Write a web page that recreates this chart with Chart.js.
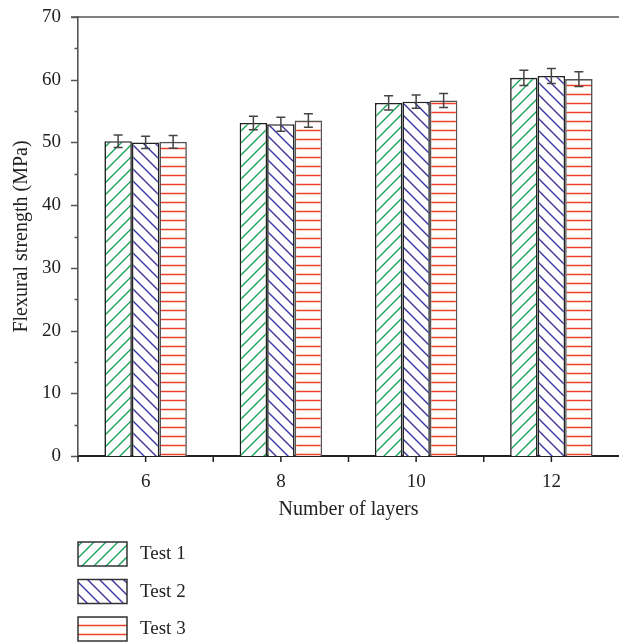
<!DOCTYPE html>
<html>
<head>
<meta charset="utf-8">
<script src="https://cdn.jsdelivr.net/npm/chart.js@4"></script>
<style>
  html, body { margin: 0; padding: 0; background: #fff; }
  #wrap { width: 619px; height: 644px; }
</style>
</head>
<body>
<div id="wrap"><canvas id="bar_chart" width="619" height="644"></canvas></div>
<script>
// number of layers (x categories)
var layers = ['6', '8', '10', '12'];
var seriesNames = ['Test 1', 'Test 2', 'Test 3'];

// flexural strength (MPa) per test
var test1 = [50.2, 53.1, 56.3, 60.3];
var test2 = [50.0, 52.9, 56.5, 60.6];
var test3 = [50.1, 53.5, 56.7, 60.1];

// error bar half-heights (MPa)
var err1 = [1.0, 1.06, 1.14, 1.22];
var err2 = [0.98, 1.12, 1.06, 1.2];
var err3 = [1.01, 1.06, 1.12, 1.17];

var yTicks = [0, 10, 20, 30, 40, 50, 60, 70];

var serif = '"Liberation Serif", "DejaVu Serif", serif';
var ctx = document.getElementById('bar_chart').getContext('2d');

/**
 * build a hatch pattern: '/' , '\' or 'h' (horizontal lines)
 */
function hatch(color, kind) {
    var c = document.createElement('canvas');
    var s = kind == 'h' ? 9 : 12;
    c.width = s;
    c.height = s;
    var g = c.getContext('2d');
    g.fillStyle = '#ffffff';
    g.fillRect(0, 0, s, s);
    g.strokeStyle = color;
    g.lineWidth = 1.4;
    g.beginPath();
    if (kind == '/') {
        g.moveTo(-2, s + 2); g.lineTo(s + 2, -2);
        g.moveTo(-2, 2); g.lineTo(2, -2);
        g.moveTo(s - 2, s + 2); g.lineTo(s + 2, s - 2);
    } else if (kind == '\\') {
        g.moveTo(-2, -2); g.lineTo(s + 2, s + 2);
        g.moveTo(s - 2, -2); g.lineTo(s + 2, 2);
        g.moveTo(-2, s - 2); g.lineTo(2, s + 2);
    } else {
        g.lineWidth = 1.5;
        g.moveTo(0, 4.5); g.lineTo(s, 4.5);
    }
    g.stroke();
    return ctx.createPattern(c, 'repeat');
}

var fills = [hatch('#17a257', '/'), hatch('#3a35a0', '\\'), hatch('#ec4128', 'h')];
var borders = ['#222222', '#222222', '#555555'];
var values = [test1, test2, test3];
var errors = [err1, err2, err3];

var datasets = [];
for (var i = 0; i < seriesNames.length; i++) {
    datasets.push({
        label: seriesNames[i],
        data: values[i],
        backgroundColor: fills[i],
        borderColor: borders[i],
        borderWidth: 1.6,
        borderSkipped: 'bottom',
        categoryPercentage: 0.61,
        barPercentage: 1.0
    });
}

// error bars, tick marks, top frame line and the vertical legend
var extras = {
    id: 'extras',
    afterDatasetsDraw: function (chart) {
        var c = chart.ctx;
        var y = chart.scales.y;
        c.save();
        c.strokeStyle = '#444444';
        c.lineWidth = 1.5;
        for (var d = 0; d < chart.data.datasets.length; d++) {
            var meta = chart.getDatasetMeta(d);
            meta.data.forEach(function (bar, k) {
                var v = values[d][k], e = errors[d][k];
                var yt = y.getPixelForValue(v + e), yb = y.getPixelForValue(v - e);
                c.beginPath();
                c.moveTo(bar.x, yt); c.lineTo(bar.x, yb);
                c.moveTo(bar.x - 4.5, yt); c.lineTo(bar.x + 4.5, yt);
                c.moveTo(bar.x - 4.5, yb); c.lineTo(bar.x + 4.5, yb);
                c.stroke();
            });
        }
        c.restore();
    },
    afterDraw: function (chart) {
        var c = chart.ctx;
        var a = chart.chartArea;
        var x = chart.scales.x, y = chart.scales.y;
        c.save();
        // top frame
        c.strokeStyle = '#555555';
        c.lineWidth = 1.5;
        c.beginPath();
        c.moveTo(a.left - 7, a.top); c.lineTo(a.right, a.top);
        c.stroke();
        // y ticks: major every 10, minor at 5
        c.beginPath();
        for (var v = 0; v <= 70; v += 5) {
            var py = Math.round(y.getPixelForValue(v)) + 0.5;
            var len = v % 10 == 0 ? 7 : 3.5;
            c.moveTo(a.left - len, py); c.lineTo(a.left, py);
        }
        c.stroke();
        // x ticks at category centres and boundaries
        c.strokeStyle = '#222222';
        c.beginPath();
        for (var k = 0; k < layers.length; k++) {
            var px = x.getPixelForValue(k);
            var half = (x.getPixelForValue(1) - x.getPixelForValue(0)) / 2;
            c.moveTo(px, a.bottom); c.lineTo(px, a.bottom + 6);
            c.moveTo(px - half, a.bottom); c.lineTo(px - half, a.bottom + 6);
        }
        c.stroke();
        // legend
        c.font = '19px ' + serif;
        c.textBaseline = 'middle';
        c.textAlign = 'left';
        for (var i = 0; i < seriesNames.length; i++) {
            var ty = 542 + i * 37.5;
            c.fillStyle = fills[i];
            c.fillRect(78, ty, 49, 24);
            c.strokeStyle = '#333333';
            c.lineWidth = 1.5;
            c.strokeRect(78, ty, 49, 24);
            c.fillStyle = '#222222';
            c.fillText(seriesNames[i], 140, ty + 12.5);
        }
        c.restore();
    }
};

var barChart = new Chart(ctx, {
    type: 'bar',
    data: {
        labels: layers,
        datasets: datasets
    },
    plugins: [extras],
    options: {
        responsive: false,
        animation: false,
        devicePixelRatio: 1,
        layout: { padding: { top: 17, right: 0, left: 0, bottom: 114 } },
        plugins: {
            legend: { display: false },
            tooltip: { enabled: false }
        },
        scales: {
            x: {
                afterFit: function (s) { s.height = 74; },
                grid: { display: false, drawTicks: false },
                border: { display: true, color: '#222222', width: 2 },
                ticks: { color: '#222222', font: { family: serif, size: 19 }, padding: 15 },
                title: {
                    display: true, text: 'Number of layers', color: '#222222',
                    font: { family: serif, size: 20 }, padding: { top: 0, bottom: 8 }
                }
            },
            y: {
                min: 0,
                max: 70,
                afterFit: function (s) { s.width = 78; s.paddingTop = 0; s.paddingBottom = 0; },
                afterBuildTicks: function (s) { s.ticks = yTicks.map(function (v) { return { value: v }; }); },
                grid: { display: false, drawTicks: false },
                border: { display: true, color: '#555555', width: 1.6 },
                ticks: { color: '#222222', font: { family: serif, size: 19 }, padding: 17 },
                title: {
                    display: true, text: 'Flexural strength (MPa)', color: '#222222',
                    font: { family: serif, size: 20 }, padding: { top: 10, bottom: 0 }
                }
            }
        }
    }
});
</script>
</body>
</html>
